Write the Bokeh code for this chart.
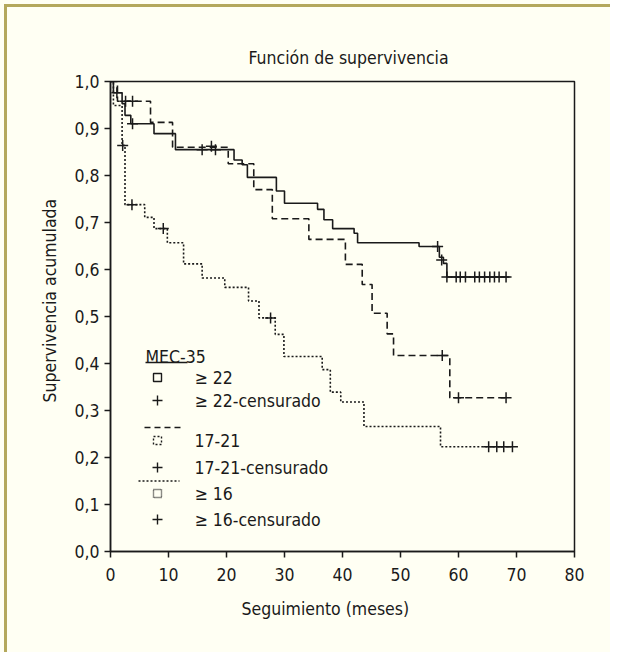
from bokeh.plotting import figure
from bokeh.models import Range1d, Label, Title, FixedTicker, CustomJSTickFormatter
from bokeh.embed import file_html
from bokeh.resources import INLINE

# ---------------- data ----------------
# MEC-35 >= 22 (solid)
t_ge22 = [0.0, 0.5, 2.0, 2.5, 3.5, 7.5, 11.2, 21.3, 22.7, 23.6, 28.6, 30.0, 35.7, 36.8, 38.3, 42.0, 42.6, 53.2, 56.7, 57.4, 58.0, 68.8]
s_ge22 = [1.0, 0.976, 0.953, 0.928, 0.910, 0.889, 0.855, 0.833, 0.823, 0.796, 0.767, 0.741, 0.728, 0.706, 0.687, 0.677, 0.657, 0.649, 0.626, 0.613, 0.584, 0.584]
ct_ge22 = [1.1, 3.8, 15.8, 18.1, 56.4, 57.1, 58.0, 59.6, 60.3, 61.2, 62.8, 63.6, 64.5, 65.4, 66.2, 67.0, 68.2]
cs_ge22 = [0.976, 0.910, 0.855, 0.855, 0.649, 0.620, 0.584, 0.584, 0.584, 0.584, 0.584, 0.584, 0.584, 0.584, 0.584, 0.584, 0.584]

# MEC-35 17-21 (dashed)
t_1721 = [0.0, 1.2, 6.9, 10.7, 20.3, 24.7, 27.9, 34.2, 40.5, 43.4, 45.1, 47.7, 48.8, 58.5, 68.2]
s_1721 = [1.0, 0.958, 0.913, 0.860, 0.825, 0.770, 0.708, 0.664, 0.611, 0.568, 0.507, 0.463, 0.417, 0.327, 0.327]
ct_1721 = [2.6, 3.8, 17.4, 57.2, 60.0, 68.2]
cs_1721 = [0.958, 0.958, 0.862, 0.417, 0.327, 0.327]

# MEC-35 <= 16 (dotted)
t_le16 = [0.0, 0.5, 2.0, 2.5, 5.9, 7.5, 9.8, 12.6, 15.8, 19.7, 23.8, 25.6, 28.4, 29.9, 36.5, 37.9, 39.7, 43.7, 56.9, 69.3]
s_le16 = [1.0, 0.949, 0.864, 0.738, 0.711, 0.687, 0.657, 0.612, 0.582, 0.562, 0.533, 0.497, 0.462, 0.415, 0.387, 0.339, 0.318, 0.266, 0.223, 0.223]
ct_le16 = [2.1, 3.7, 9.1, 27.6, 65.2, 66.6, 67.8, 69.3]
cs_le16 = [0.864, 0.738, 0.687, 0.497, 0.223, 0.223, 0.223, 0.223]

x_ticks = [0, 10, 20, 30, 40, 50, 60, 70, 80]
y_ticks = [0.0, 0.1, 0.2, 0.3, 0.4, 0.5, 0.6, 0.7, 0.8, 0.9, 1.0]

title_text = "Función de supervivencia"
x_label = "Seguimiento (meses)"
y_label = "Supervivencia acumulada"
legend_title = "MEC-35"
legend_labels = ["\u2265 22", "\u2265 22-censurado", "17-21", "17-21-censurado", "\u2265 16", "\u2265 16-censurado"]

# ---------------- layout ----------------
FONT = "DejaVu Sans Condensed, Roboto, sans-serif"
FS = "17.5px"
BG = "#FFFFF3"
KHAKI = "#B4A85C"
INK = "#1a1a1a"

W, H = 610, 652
FL, FT, FW, FH = 110, 81, 464, 470   # frame left/top/width/height in figure px

def dx(px):  # figure px -> data x
    return (px - FL) / FW * 80.0

def dy(py):  # figure px -> data y
    return (FT + FH - py) / FH

p = figure(width=W, height=H, output_backend="svg", toolbar_location=None,
           x_range=Range1d(0, 80), y_range=Range1d(0, 1),
           min_border_left=FL, min_border_right=W - FL - FW,
           min_border_top=FT, min_border_bottom=H - FT - FH)
p.background_fill_color = BG
p.border_fill_color = None
p.styles = {"background-color": BG,
            "box-shadow": f"inset 4px 4px 0 0 {BG}, inset 7px 7px 0 0 {KHAKI}"}
p.outline_line_color = INK
p.outline_line_width = 1.5
p.grid.visible = False

for ax in (p.xaxis[0], p.yaxis[0]):
    ax.axis_line_color = INK
    ax.axis_line_width = 1.5
    ax.major_tick_line_color = INK
    ax.major_tick_line_width = 1.5
    ax.major_tick_in = 0
    ax.major_tick_out = 6
    ax.minor_tick_line_color = None
    ax.major_label_text_font = FONT
    ax.major_label_text_font_size = FS
    ax.major_label_text_color = INK

p.xaxis.ticker = FixedTicker(ticks=x_ticks)
p.yaxis.ticker = FixedTicker(ticks=y_ticks)
p.xaxis.major_label_standoff = 10
p.yaxis.major_label_standoff = 5
p.yaxis.formatter = CustomJSTickFormatter(code="return tick.toFixed(1).replace('.', ',');")

# titles (as Title annotations so they sit outside the frame)
p.add_layout(Title(text=title_text, align="left", offset=138, standoff=28,
                   text_font=FONT, text_font_size=FS, text_font_style="normal",
                   text_color=INK), "above")
p.add_layout(Title(text=x_label, align="left", offset=131, standoff=26,
                   text_font=FONT, text_font_size=FS, text_font_style="normal",
                   text_color=INK), "below")
p.add_layout(Title(text=y_label, align="left", offset=149, standoff=23,
                   text_font=FONT, text_font_size=FS, text_font_style="normal",
                   text_color=INK), "left")

# curves
p.step(t_ge22, s_ge22, mode="after", line_color=INK, line_width=1.6)
p.step(t_1721, s_1721, mode="after", line_color=INK, line_width=1.6, line_dash="7 4")
p.step(t_le16, s_le16, mode="after", line_color=INK, line_width=1.6, line_dash="2 2")
for ct, cs in ((ct_ge22, cs_ge22), (ct_1721, cs_1721), (ct_le16, cs_le16)):
    p.scatter(ct, cs, marker="cross", size=11, line_color=INK, line_width=1.5)

# legend (drawn by hand, positions in figure px)
LX_SYM = 157
LX_TXT = 194
p.add_layout(Label(x=dx(145), y=dy(356), text=legend_title, text_align="left",
                   text_baseline="alphabetic", text_font=FONT,
                   text_font_size=FS, text_color=INK))
p.line([dx(145), dx(187)], [dy(362), dy(362)], line_color=INK, line_width=1.5)
p.line([dx(144), dx(182)], [dy(427), dy(427)], line_color=INK, line_width=1.5, line_dash="6 4")
p.line([dx(138), dx(179)], [dy(480.5), dy(480.5)], line_color=INK, line_width=1.5, line_dash="2 2")

rows_y = [377, 400, 440, 467, 493, 519]
sym_kind = ["square", "cross", "square", "cross", "square", "cross"]
sym_dash = ["solid", "solid", "2 2", "solid", "1 1", "solid"]
for yy, kind, dash, lab in zip(rows_y, sym_kind, sym_dash, legend_labels):
    if kind == "square":
        p.scatter([dx(LX_SYM)], [dy(yy)], marker="square", size=8, fill_color=None,
                  line_color=INK, line_width=1.4, line_dash=dash)
    else:
        p.scatter([dx(LX_SYM)], [dy(yy)], marker="cross", size=10, line_color=INK, line_width=1.4)
    p.add_layout(Label(x=dx(LX_TXT), y=dy(yy), text=lab, text_align="left",
                       text_baseline="middle", text_font=FONT,
                       text_font_size=FS, text_color=INK))

open("out.html", "w").write(file_html(p, INLINE))
